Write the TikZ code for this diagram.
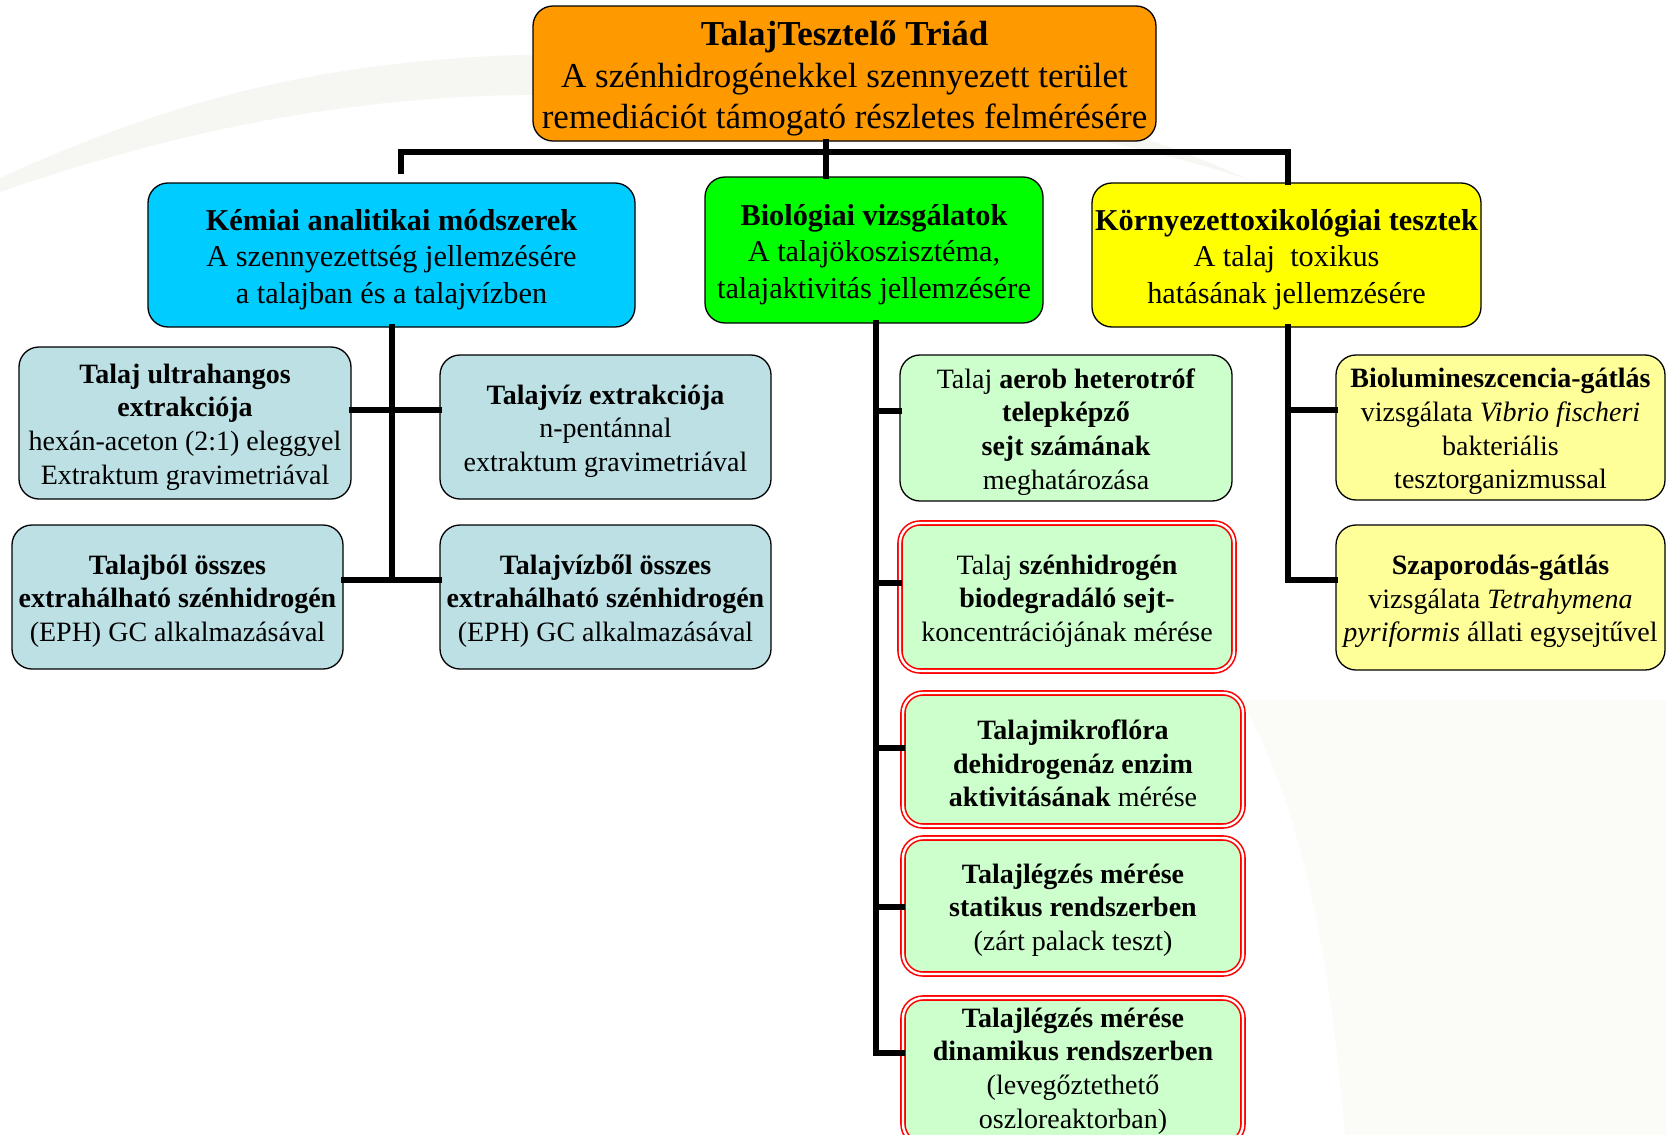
\documentclass[tikz,border=0pt]{standalone}
\usepackage{fontspec}
\setmainfont{Liberation Serif}
\newcommand\fszA{\fontsize{35}{41.5}\selectfont}
\newcommand\fszB{\fontsize{30.3}{36.7}\selectfont}
\newcommand\fszC{\fontsize{28}{33.7}\selectfont}
\definecolor{corange}{HTML}{FF9900}
\definecolor{cblue}{HTML}{00CCFF}
\definecolor{cgreen}{HTML}{00FF00}
\definecolor{cyellow}{HTML}{FFFF00}
\definecolor{lblue}{HTML}{BCE0E4}
\definecolor{lgreen}{HTML}{CCFFCC}
\definecolor{lyellow}{HTML}{FFFF99}
\definecolor{swoosh}{HTML}{F6F6F2}
\definecolor{swooshb}{HTML}{FBFBF7}
\begin{document}
\begin{tikzpicture}[x=1pt,y=-1pt,
  box/.style={rectangle, rounded corners=20pt, draw=black, line width=1.3pt, inner sep=0pt, anchor=center},
  topbox/.style={box, fill=corange, minimum width=623pt, minimum height=135pt},
  midbox/.style={box, minimum height=144pt},
  subbox/.style={box, minimum width=331pt, minimum height=144pt},
  redbox/.style={subbox, draw=red, line width=1.6pt, double=white, double distance=2.4pt, fill=lgreen},
  txt/.style={align=center, inner sep=0pt, anchor=center},
  txtA/.style={txt, font=\fszA, yshift=-5pt},
  txtB/.style={txt, font=\fszB, yshift=-4.5pt},
  txtC/.style={txt, font=\fszC, yshift=-4pt},
  conn/.style={draw=black, line width=5.5pt, line cap=rect, line join=miter}]
\useasboundingbox (0,0) rectangle (1666,1135);
\fill[white] (0,0) rectangle (1666,1135);
% faint background swoosh
\fill[swoosh] (0,178) .. controls (150,110) and (300,62) .. (520,55) .. controls (800,48) and (1050,90) .. (1250,180)
  .. controls (1050,115) and (800,92) .. (520,95) .. controls (320,98) and (150,140) .. (0,192) -- cycle;
\fill[swooshb] (1240,700) .. controls (1300,800) and (1330,950) .. (1345,1135) -- (1666,1135) -- (1666,700) -- cycle;

\coordinate (busL) at (401,152);
\coordinate (busLe) at (401,171);
\coordinate (busM) at (826,152);
\coordinate (busR) at (1288,152);

\node[topbox] (top) at (844.5,73.5) {};
\node[txtA] at (top.center) {\textbf{TalajTesztelő Triád}\\A szénhidrogénekkel szennyezett terület\\remediációt támogató részletes felmérésére};

\node[midbox, fill=cblue, minimum width=487pt] (blue) at (391.5,255) {};
\node[txtB] at (blue.center) {\textbf{Kémiai analitikai módszerek}\\A szennyezettség jellemzésére\\a talajban és a talajvízben};
\node[midbox, fill=cgreen, minimum width=338pt, minimum height=146pt] (green) at (874,250) {};
\node[txtB] at (green.center) {\textbf{Biológiai vizsgálatok}\\A talajökoszisztéma,\\talajaktivitás jellemzésére};
\node[midbox, fill=cyellow, minimum width=389pt] (yellow) at (1286.5,255) {};
\node[txtB] at (yellow.center) {\textbf{Környezettoxikológiai tesztek}\\A talaj\ \ toxikus\\hatásának jellemzésére};

\coordinate (bv) at (392,327);
\coordinate (bj1) at (392,410);
\coordinate (bj2) at (392,580);
\coordinate (gv) at (876,323);
\coordinate (yv) at (1288,327);
\coordinate (yj1) at (1288,410);
\coordinate (yj2) at (1288,580);

\node[subbox, fill=lblue, minimum width=332pt, minimum height=152pt] (b1) at (185,423) {};
\node[txtC] at (b1.center) {\textbf{Talaj ultrahangos}\\\textbf{extrakciója}\\hexán-aceton (2:1) eleggyel\\Extraktum gravimetriával};
\node[subbox, fill=lblue] (b2) at (605.5,427) {};
\node[txtC] at (b2.center) {\textbf{Talajvíz extrakciója}\\n-pentánnal\\extraktum gravimetriával};
\node[subbox, fill=lblue] (b3) at (177.5,597) {};
\node[txtC] at (b3.center) {\textbf{Talajból összes}\\\textbf{extrahálható szénhidrogén}\\(EPH) GC alkalmazásával};
\node[subbox, fill=lblue] (b4) at (605.5,597) {};
\node[txtC] at (b4.center) {\textbf{Talajvízből összes}\\\textbf{extrahálható szénhidrogén}\\(EPH) GC alkalmazásával};

\node[subbox, fill=lgreen, minimum width=332pt, minimum height=146pt] (g1) at (1066,428) {};
\node[txtC] at (g1.center) {Talaj \textbf{aerob heterotróf}\\\textbf{telepképző}\\\textbf{sejt számának}\\meghatározása};
\node[redbox, minimum width=334pt, minimum height=148pt] (g2) at (1067,597) {};
\node[txtC] at (g2.center) {Talaj \textbf{szénhidrogén}\\\textbf{biodegradáló sejt-}\\koncentrációjának mérése};
\node[redbox, minimum width=340pt, minimum height=133pt] (g3) at (1073,759.5) {};
\node[txtC] at (g3.center) {\textbf{Talajmikroflóra}\\\textbf{dehidrogenáz enzim}\\\textbf{aktivitásának} mérése};
\node[redbox, minimum width=340pt, minimum height=136pt] (g4) at (1073,906) {};
\node[txtC] at (g4.center) {\textbf{Talajlégzés mérése}\\\textbf{statikus rendszerben}\\(zárt palack teszt)};
\node[redbox, minimum width=340pt, minimum height=146pt] (g5) at (1073,1071) {};
\node[txtC, yshift=4pt] at (g5.center) {\textbf{Talajlégzés mérése}\\\textbf{dinamikus rendszerben}\\(levegőztethető\\oszloreaktorban)};
\coordinate (gj1) at (876,411);
\coordinate (gj2) at (876,583);
\coordinate (gj3) at (876,748);
\coordinate (gj4) at (876,907);
\coordinate (gj5) at (876,1053);

\node[subbox, fill=lyellow, minimum width=329pt, minimum height=145pt] (y1) at (1500.5,427.5) {};
\node[txtC] at (y1.center) {\textbf{Biolumineszcencia-gátlás}\\vizsgálata \textit{Vibrio fischeri}\\bakteriális\\tesztorganizmussal};
\node[subbox, fill=lyellow, minimum width=329pt, minimum height=145pt] (y2) at (1500.5,597.5) {};
\node[txtC] at (y2.center) {\textbf{Szaporodás-gátlás}\\vizsgálata \textit{Tetrahymena}\\\textit{pyriformis} állati egysejtűvel};

\draw[conn] (busLe) -- (busL) -- (busR) -- (busR |- yellow.north);
\draw[conn] (busM |- top.south) -- (busM |- green.north);
\draw[conn] (bv) -- (bj2);
\draw[conn] (b1.east |- bj1) -- (b2.west |- bj1);
\draw[conn] (b3.east |- bj2) -- (b4.west |- bj2);
\draw[conn] (gv) -- (gj5);
\draw[conn] (gj1) -- (g1.west |- gj1);
\draw[conn] (gj2) -- (g2.west |- gj2);
\draw[conn] (gj3) -- (g3.west |- gj3);
\draw[conn] (gj4) -- (g4.west |- gj4);
\draw[conn] (gj5) -- (g5.west |- gj5);
\draw[conn] (yv) -- (yj2);
\draw[conn] (yj1) -- (y1.west |- yj1);
\draw[conn] (yj2) -- (y2.west |- yj2);
\end{tikzpicture}
\end{document}
